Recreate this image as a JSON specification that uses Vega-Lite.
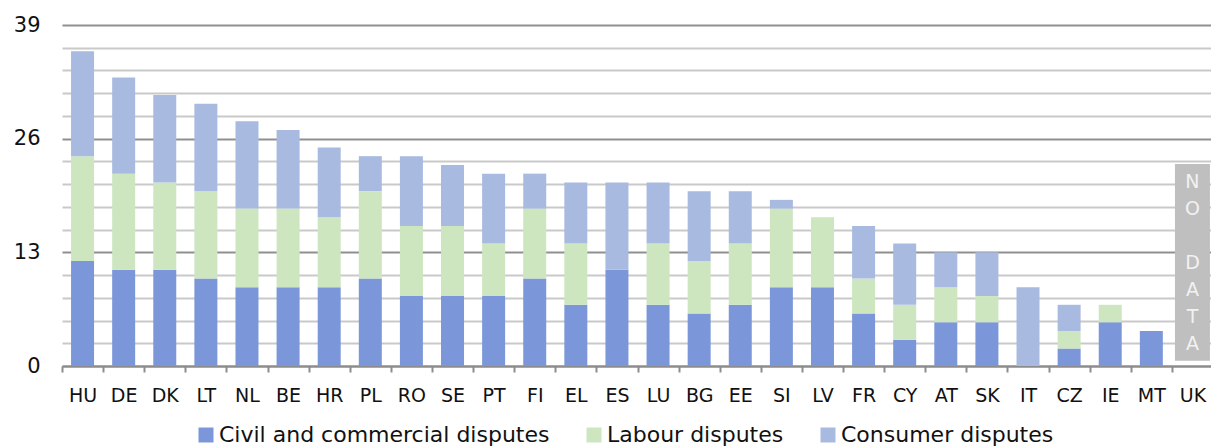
{
  "$schema": "https://vega.github.io/schema/vega-lite/v6.json",
  "width": 1151,
  "height": 341,
  "autosize": "none",
  "padding": {"left": 62, "top": 25, "right": 0, "bottom": 80},
  "background": "white",
  "config": {
    "view": {"stroke": null},
    "font": "DejaVu Sans"
  },
  "datasets": {
    "bars": [
      {"country": "HU", "type": "Civil and commercial disputes", "value": 12},
      {"country": "HU", "type": "Labour disputes", "value": 12},
      {"country": "HU", "type": "Consumer disputes", "value": 12},
      {"country": "DE", "type": "Civil and commercial disputes", "value": 11},
      {"country": "DE", "type": "Labour disputes", "value": 11},
      {"country": "DE", "type": "Consumer disputes", "value": 11},
      {"country": "DK", "type": "Civil and commercial disputes", "value": 11},
      {"country": "DK", "type": "Labour disputes", "value": 10},
      {"country": "DK", "type": "Consumer disputes", "value": 10},
      {"country": "LT", "type": "Civil and commercial disputes", "value": 10},
      {"country": "LT", "type": "Labour disputes", "value": 10},
      {"country": "LT", "type": "Consumer disputes", "value": 10},
      {"country": "NL", "type": "Civil and commercial disputes", "value": 9},
      {"country": "NL", "type": "Labour disputes", "value": 9},
      {"country": "NL", "type": "Consumer disputes", "value": 10},
      {"country": "BE", "type": "Civil and commercial disputes", "value": 9},
      {"country": "BE", "type": "Labour disputes", "value": 9},
      {"country": "BE", "type": "Consumer disputes", "value": 9},
      {"country": "HR", "type": "Civil and commercial disputes", "value": 9},
      {"country": "HR", "type": "Labour disputes", "value": 8},
      {"country": "HR", "type": "Consumer disputes", "value": 8},
      {"country": "PL", "type": "Civil and commercial disputes", "value": 10},
      {"country": "PL", "type": "Labour disputes", "value": 10},
      {"country": "PL", "type": "Consumer disputes", "value": 4},
      {"country": "RO", "type": "Civil and commercial disputes", "value": 8},
      {"country": "RO", "type": "Labour disputes", "value": 8},
      {"country": "RO", "type": "Consumer disputes", "value": 8},
      {"country": "SE", "type": "Civil and commercial disputes", "value": 8},
      {"country": "SE", "type": "Labour disputes", "value": 8},
      {"country": "SE", "type": "Consumer disputes", "value": 7},
      {"country": "PT", "type": "Civil and commercial disputes", "value": 8},
      {"country": "PT", "type": "Labour disputes", "value": 6},
      {"country": "PT", "type": "Consumer disputes", "value": 8},
      {"country": "FI", "type": "Civil and commercial disputes", "value": 10},
      {"country": "FI", "type": "Labour disputes", "value": 8},
      {"country": "FI", "type": "Consumer disputes", "value": 4},
      {"country": "EL", "type": "Civil and commercial disputes", "value": 7},
      {"country": "EL", "type": "Labour disputes", "value": 7},
      {"country": "EL", "type": "Consumer disputes", "value": 7},
      {"country": "ES", "type": "Civil and commercial disputes", "value": 11},
      {"country": "ES", "type": "Labour disputes", "value": 0},
      {"country": "ES", "type": "Consumer disputes", "value": 10},
      {"country": "LU", "type": "Civil and commercial disputes", "value": 7},
      {"country": "LU", "type": "Labour disputes", "value": 7},
      {"country": "LU", "type": "Consumer disputes", "value": 7},
      {"country": "BG", "type": "Civil and commercial disputes", "value": 6},
      {"country": "BG", "type": "Labour disputes", "value": 6},
      {"country": "BG", "type": "Consumer disputes", "value": 8},
      {"country": "EE", "type": "Civil and commercial disputes", "value": 7},
      {"country": "EE", "type": "Labour disputes", "value": 7},
      {"country": "EE", "type": "Consumer disputes", "value": 6},
      {"country": "SI", "type": "Civil and commercial disputes", "value": 9},
      {"country": "SI", "type": "Labour disputes", "value": 9},
      {"country": "SI", "type": "Consumer disputes", "value": 1},
      {"country": "LV", "type": "Civil and commercial disputes", "value": 9},
      {"country": "LV", "type": "Labour disputes", "value": 8},
      {"country": "LV", "type": "Consumer disputes", "value": 0},
      {"country": "FR", "type": "Civil and commercial disputes", "value": 6},
      {"country": "FR", "type": "Labour disputes", "value": 4},
      {"country": "FR", "type": "Consumer disputes", "value": 6},
      {"country": "CY", "type": "Civil and commercial disputes", "value": 3},
      {"country": "CY", "type": "Labour disputes", "value": 4},
      {"country": "CY", "type": "Consumer disputes", "value": 7},
      {"country": "AT", "type": "Civil and commercial disputes", "value": 5},
      {"country": "AT", "type": "Labour disputes", "value": 4},
      {"country": "AT", "type": "Consumer disputes", "value": 4},
      {"country": "SK", "type": "Civil and commercial disputes", "value": 5},
      {"country": "SK", "type": "Labour disputes", "value": 3},
      {"country": "SK", "type": "Consumer disputes", "value": 5},
      {"country": "IT", "type": "Civil and commercial disputes", "value": 0},
      {"country": "IT", "type": "Labour disputes", "value": 0},
      {"country": "IT", "type": "Consumer disputes", "value": 9},
      {"country": "CZ", "type": "Civil and commercial disputes", "value": 2},
      {"country": "CZ", "type": "Labour disputes", "value": 2},
      {"country": "CZ", "type": "Consumer disputes", "value": 3},
      {"country": "IE", "type": "Civil and commercial disputes", "value": 5},
      {"country": "IE", "type": "Labour disputes", "value": 2},
      {"country": "IE", "type": "Consumer disputes", "value": 0},
      {"country": "MT", "type": "Civil and commercial disputes", "value": 4},
      {"country": "MT", "type": "Labour disputes", "value": 0},
      {"country": "MT", "type": "Consumer disputes", "value": 0}
    ],
    "nodata": [
      {"country": "UK", "word1": "N|O", "word2": "D|A|T|A"}
    ]
  },
  "layer": [
    {
      "data": {"name": "bars"},
      "mark": {"type": "bar", "size": 23},
      "encoding": {
        "x": {
          "field": "country",
          "type": "nominal",
          "sort": null,
          "scale": {
            "domain": ["HU","DE","DK","LT","NL","BE","HR","PL","RO","SE","PT","FI","EL","ES","LU","BG","EE","SI","LV","FR","CY","AT","SK","IT","CZ","IE","MT","UK"],
            "paddingInner": 0,
            "paddingOuter": 0
          },
          "axis": {
            "title": null,
            "labelAngle": 0,
            "labelFontSize": 19,
            "labelColor": "#111111",
            "labelPadding": 14,
            "domainColor": "#8c8c8c",
            "domainWidth": 2,
            "tickColor": "#8c8c8c",
            "tickWidth": 2,
            "tickSize": 6,
            "tickBand": "extent",
            "grid": false
          }
        },
        "y": {
          "field": "value",
          "type": "quantitative",
          "stack": "zero",
          "scale": {"domain": [0, 39], "nice": false, "zero": true},
          "axis": {
            "title": null,
            "values": [0, 2.6, 5.2, 7.8, 10.4, 13, 15.6, 18.2, 20.8, 23.4, 26, 28.6, 31.2, 33.8, 36.4, 39],
            "tickCount": 40,
            "labelExpr": "datum.value % 13 === 0 ? datum.label : ''",
            "labelOverlap": false,
            "labelFlush": false,
            "labelFontSize": 21,
            "labelColor": "#111111",
            "labelPadding": 22,
            "domain": false,
            "ticks": false,
            "grid": true,
            "gridWidth": 2,
            "gridColor": {"condition": {"test": "datum.value % 13 === 0", "value": "#8f8f8f"}, "value": "#c9c9c9"}
          }
        },
        "color": {
          "field": "type",
          "type": "nominal",
          "scale": {
            "domain": ["Civil and commercial disputes", "Labour disputes", "Consumer disputes"],
            "range": ["#7b97d9", "#cde6c0", "#a9bae1"]
          },
          "legend": {
            "title": null,
            "orient": "none",
            "legendX": 133,
            "legendY": 399,
            "direction": "horizontal",
            "symbolType": "square",
            "symbolSize": 225,
            "symbolStrokeWidth": 0,
            "labelFontSize": 22,
            "labelColor": "#111111",
            "labelLimit": 400,
            "columnPadding": 33,
            "symbolOffset": 0,
            "labelOffset": 2
          }
        },
        "order": {"field": "order", "type": "quantitative"}
      },
      "transform": [
        {"calculate": "indexof(['Civil and commercial disputes','Labour disputes','Consumer disputes'], datum.type)", "as": "order"}
      ]
    },
    {
      "data": {"name": "nodata"},
      "mark": {"type": "bar", "size": 35, "color": "#bfbfbf"},
      "encoding": {
        "x": {"field": "country", "type": "nominal"},
        "y": {"datum": 23.1},
        "y2": {"datum": 0.6}
      }
    },
    {
      "data": {"name": "nodata"},
      "mark": {"type": "text", "lineBreak": "|", "lineHeight": 27, "fontSize": 19, "color": "#f2f2f2", "baseline": "middle", "align": "center"},
      "encoding": {
        "x": {"field": "country", "type": "nominal"},
        "y": {"datum": 21.1},
        "text": {"field": "word1"}
      }
    },
    {
      "data": {"name": "nodata"},
      "mark": {"type": "text", "lineBreak": "|", "lineHeight": 27, "fontSize": 19, "color": "#f2f2f2", "baseline": "middle", "align": "center"},
      "encoding": {
        "x": {"field": "country", "type": "nominal"},
        "y": {"datum": 11.82},
        "text": {"field": "word2"}
      }
    }
  ]
}
